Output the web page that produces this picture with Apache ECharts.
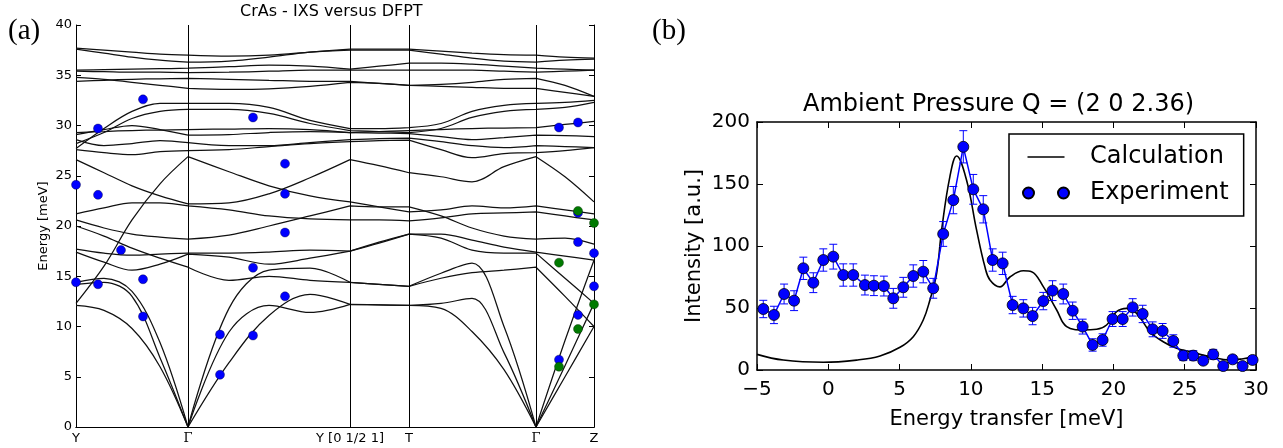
<!DOCTYPE html>
<html>
<head>
<meta charset="utf-8">
<script src="https://cdn.jsdelivr.net/npm/echarts@6/dist/echarts.min.js"></script>
<style>html,body{margin:0;padding:0;background:#fff;} #main{width:1283px;height:448px;}</style>
</head>
<body>
<div id="main"></div>
<script>
// ---- panel (a): phonon dispersion, path distance columns (px along the k-path)
var kCols = [0, 28, 56, 84, 112, 153, 193, 234, 274, 303, 333, 365, 396, 428, 460, 489, 518];
var kBreaks = [4, 8, 10, 14];
var kTicks = [0, 112, 274, 333, 460, 518];
var kLabels = ['Y', 'Γ', 'Y [0 1/2 1]', 'T', 'Γ', 'Z'];

var bandT1 = [37.7, 37.5, 37.3, 37.1, 37.0, 36.9, 37.0, 37.3, 37.6, 37.6, 37.6, 37.4, 37.2, 37.05, 37.0, 36.8, 36.7];
var bandT2 = [37.6, 37.2, 36.8, 36.5, 36.3, 36.4, 36.8, 37.3, 37.5, 37.5, 37.5, 37.1, 36.7, 36.4, 36.3, 36.5, 36.6];
var bandT3 = [35.5, 35.55, 35.6, 35.65, 35.7, 35.85, 36.0, 35.9, 35.6, 35.9, 36.2, 36.2, 36.1, 35.9, 35.7, 35.6, 35.5];
var bandT4 = [35.4, 35.35, 35.3, 35.3, 35.25, 35.3, 35.4, 35.5, 35.5, 35.5, 35.5, 35.5, 35.5, 35.4, 35.3, 35.4, 35.5];
var bandT5 = [34.4, 34.5, 34.6, 34.65, 34.7, 34.6, 34.5, 34.4, 34.4, 34.2, 34.0, 34.1, 34.3, 34.6, 34.7, 34.0, 32.9];
var bandT6 = [34.8, 34.6, 34.3, 34.0, 33.7, 33.6, 33.65, 33.9, 34.3, 34.2, 34.0, 33.9, 33.8, 33.7, 33.7, 33.3, 32.9];
var bandU1 = [27.7, 29.7, 31.4, 32.2, 32.2, 32.2, 31.8, 30.5, 29.7, 29.7, 29.8, 30.2, 31.4, 32.0, 32.2, 32.3, 32.5];
var bandU2 = [28.2, 29.3, 30.7, 31.4, 31.6, 31.6, 31.2, 30.2, 29.5, 29.4, 29.3, 29.7, 30.8, 31.4, 31.6, 31.8, 32.3];
var bandV1 = [29.3, 29.4, 29.5, 29.55, 29.6, 29.65, 29.7, 29.6, 29.3, 29.4, 29.5, 29.6, 29.7, 29.75, 29.8, 30.1, 30.4];
var bandV2 = [29.1, 29.6, 30.0, 29.6, 29.05, 29.1, 29.3, 29.4, 29.3, 29.25, 29.2, 28.9, 28.6, 28.8, 29.05, 29.0, 28.9];
var bandV3 = [28.6, 28.0, 28.2, 28.5, 28.3, 28.0, 28.0, 28.3, 28.6, 28.7, 28.75, 28.4, 28.0, 27.8, 28.0, 27.9, 27.8];
var bandV4 = [27.6, 27.3, 27.1, 27.4, 27.5, 27.6, 27.9, 28.2, 28.4, 28.5, 28.55, 27.6, 26.8, 27.2, 27.3, 27.5, 27.8];
var bandW1 = [12.3, 16.0, 20.6, 24.2, 26.9, 25.4, 24.0, 23.0, 22.4, 21.9, 21.4, 21.6, 22.0, 21.8, 22.0, 21.6, 21.2];
var bandW2 = [26.6, 25.3, 24.0, 23.0, 22.2, 22.3, 23.2, 24.8, 26.6, 26.0, 25.3, 24.9, 24.4, 25.9, 26.9, 24.9, 22.4];
var bandY1 = [21.2, 21.8, 22.3, 22.3, 22.0, 21.6, 21.0, 20.7, 20.6, 20.6, 20.5, 20.8, 21.2, 21.3, 21.4, 21.0, 20.6];
var bandY2 = [20.6, 19.8, 19.2, 18.9, 18.7, 19.1, 20.0, 21.0, 22.0, 21.9, 21.9, 21.0, 19.8, 19.0, 18.7, 18.8, 18.2];
var bandX1 = [20.0, 19.0, 17.8, 16.8, 15.9, 14.6, 15.0, 14.6, 14.4, 14.2, 14.0, 14.8, 15.35, 15.6, 15.9, 13.0, 10.0];
var bandX2 = [17.7, 17.3, 17.1, 17.2, 17.3, 17.3, 17.4, 17.6, 17.5, 18.3, 19.2, 18.8, 17.6, 17.3, 17.3, 14.8, 12.3];
var bandX3 = [17.4, 16.4, 15.6, 16.2, 17.2, 16.9, 16.2, 16.8, 17.5, 18.4, 19.2, 19.2, 18.6, 17.9, 17.4, 17.0, 16.6];
var bandA1 = [14.4, 14.8, 13.5, 8.4, 0, 11.8, 15.6, 15.8, 14.4, 14.2, 14.0, 15.3, 16.3, 10.0, 0, 8.6, 16.6];
var bandA2 = [14.2, 14.4, 13.0, 6.9, 0, 9.45, 12.1, 11.4, 12.2, 12.15, 12.1, 12.3, 12.8, 7.4, 0, 6.1, 12.3];
var bandA3 = [12.1, 11.6, 9.8, 6.0, 0, 6.4, 11.1, 13.2, 12.2, 12.15, 12.1, 11.8, 9.5, 5.7, 0, 5.0, 10.0];

var bands = [bandT1, bandT2, bandT3, bandT4, bandT5, bandT6, bandU1, bandU2, bandV1, bandV2, bandV3, bandV4,
  bandW1, bandW2, bandY1, bandY2, bandX1, bandX2, bandX3, bandA1, bandA2, bandA3];

// IXS points [path position, energy]
var ixsBlue = [[0, 24.1], [0, 14.4], [22, 29.7], [22, 23.1], [22, 14.2], [45, 17.6], [67, 32.6], [67, 14.7], [67, 11.0],
  [144, 9.2], [144, 5.2], [177, 30.8], [177, 15.85], [177, 9.1], [209, 26.2], [209, 23.2], [209, 19.35], [209, 13.0],
  [483, 29.8], [483, 6.7], [502, 30.3], [502, 21.3], [502, 18.4], [502, 11.15], [518, 17.3], [518, 14.0]];
var ixsGreen = [[502, 21.5], [518, 20.3], [483, 16.35], [518, 12.2], [502, 9.75], [483, 6.0]];

// ---- panel (b): Q = (2 0 2.36)
var expX = [-4.56, -3.81, -3.1, -2.4, -1.75, -1.05, -0.35, 0.35, 1.05, 1.75, 2.57, 3.2, 3.9, 4.56, 5.26, 5.96, 6.66, 7.36,
  8.06, 8.77, 9.47, 10.17, 10.87, 11.53, 12.23, 12.93, 13.68, 14.33, 15.08, 15.73, 16.48, 17.14, 17.84, 18.54, 19.24,
  19.94, 20.65, 21.35, 22.05, 22.75, 23.45, 24.2, 24.9, 25.6, 26.3, 27.0, 27.7, 28.36, 29.06, 29.76];
var expY = [49.2, 44.4, 61.3, 55.9, 82, 70.4, 88.7, 91.4, 76.6, 76.6, 68.5, 68, 67.7, 57.8, 66.7, 75.8, 79.3, 65.9,
  109.7, 137, 180, 145.7, 129.6, 88.7, 86, 52.4, 49.7, 43.5, 55.6, 64, 61.3, 47.8, 35, 20.2, 24.2,
  41.1, 41.1, 50.5, 45.2, 32.8, 31.5, 23.4, 11.6, 11.6, 7.5, 12.6, 3.2, 8.6, 3.2, 8.1];
var expErr = [7, 7, 8, 8, 9, 8, 9, 10, 9, 9, 8, 8, 8, 8, 8, 9, 9, 8, 10, 11, 13, 12, 11, 9, 9, 7, 7, 7, 7, 8, 8, 7, 6, 5, 5,
  6, 6, 7, 7, 6, 6, 5, 4, 4, 3, 4, 2, 3, 2, 3];
var calcX = [-5, -3.16, -0.35, 1.99, 3.63, 5.03, 5.96, 6.66, 7.13, 7.6, 7.95, 8.53, 9.0, 9.7, 10.4, 10.99, 11.34, 12.04,
  12.74, 13.68, 14.26, 15.08, 16.02, 16.72, 17.88, 18.82, 19.52, 20.22, 20.93, 21.63, 22.56, 23.49, 24.43, 25.36,
  26.77, 28.17, 29.1, 29.9];
var calcY = [12.6, 8, 6.2, 8, 11.3, 18.3, 26.9, 40.3, 56.5, 78, 113, 156, 172.6, 153, 113, 83, 72.6, 67,
  75, 80, 79.3, 67.2, 48.4, 35, 32.3, 32.8, 36.3, 47, 49.7, 45.7, 30.9, 22.8, 17.5, 14.8,
  10.8, 8, 9.1, 10.8];

var FONT = 'DejaVu Sans';

function branchData(vals) {
  var out = [];
  for (var i = 0; i < kCols.length; i++) {
    out.push([kCols[i], vals[i]]);
    if (kBreaks.indexOf(i) >= 0) {
      out.push([kCols[i], '-']);
      out.push([kCols[i], vals[i]]);
    }
  }
  return out;
}
function zip(a, b) { return a.map(function (v, i) { return [v, b[i]]; }); }

var chart = echarts.init(document.getElementById('main'));

var series = bands.map(function (b, i) {
  var s = {
    type: 'line', xAxisIndex: 0, yAxisIndex: 0, data: branchData(b),
    smooth: 0.35, symbol: 'none', silent: true, animation: false, z: 2,
    lineStyle: {color: '#111', width: 1.25}
  };
  if (i === 0) {
    s.markLine = {
      silent: true, symbol: ['none', 'none'], animation: false,
      label: {show: false},
      lineStyle: {color: '#000', type: 'solid', width: 1},
      data: [{xAxis: kTicks[1]}, {xAxis: kTicks[2]}, {xAxis: kTicks[3]}, {xAxis: kTicks[4]}]
    };
  }
  return s;
});
series.push({
  type: 'scatter', xAxisIndex: 0, yAxisIndex: 0, data: ixsBlue, symbolSize: 9, z: 5, silent: true,
  itemStyle: {color: '#0000ff', opacity: 1, borderColor: '#000033', borderWidth: 0.4}
});
series.push({
  type: 'scatter', xAxisIndex: 0, yAxisIndex: 0, data: ixsGreen, symbolSize: 9, z: 6, silent: true,
  itemStyle: {color: '#007a00', opacity: 1, borderColor: '#002200', borderWidth: 0.4}
});
series.push({
  name: 'Calculation', type: 'line', xAxisIndex: 2, yAxisIndex: 2, data: zip(calcX, calcY),
  smooth: 0.4, symbol: 'none', color: '#000', lineStyle: {color: '#000', width: 1.6}, z: 3
});
series.push({
  type: 'custom', xAxisIndex: 2, yAxisIndex: 2, z: 4, silent: true,
  data: expX.map(function (x, i) { return [x, expY[i], expErr[i]]; }),
  encode: {x: 0, y: 1},
  renderItem: function (params, api) {
    var x = api.value(0), y = api.value(1), e = api.value(2);
    var top = api.coord([x, y + e]), bot = api.coord([x, y - e]);
    var w = 4, st = {stroke: '#0000ff', lineWidth: 1};
    return {type: 'group', children: [
      {type: 'line', shape: {x1: top[0], y1: top[1], x2: bot[0], y2: bot[1]}, style: st},
      {type: 'line', shape: {x1: top[0] - w, y1: top[1], x2: top[0] + w, y2: top[1]}, style: st},
      {type: 'line', shape: {x1: bot[0] - w, y1: bot[1], x2: bot[0] + w, y2: bot[1]}, style: st}
    ]};
  }
});
series.push({
  name: 'Experiment', type: 'line', xAxisIndex: 2, yAxisIndex: 2, data: zip(expX, expY),
  symbol: 'circle', symbolSize: 11, z: 5, color: '#0000ff',
  itemStyle: {color: '#0000ff', borderColor: '#000', borderWidth: 0.8},
  lineStyle: {color: '#0000ff', width: 1.5}
});

var option = {
  animation: false,
  backgroundColor: '#fff',
  title: [
    {text: 'CrAs - IXS versus DFPT', left: 240, top: 4, padding: 0,
      textStyle: {fontSize: 16, fontWeight: 'normal', color: '#000', fontFamily: FONT}},
    {text: 'Ambient Pressure Q = (2 0 2.36)', left: 803, top: 93, padding: 0,
      textStyle: {fontSize: 24, fontWeight: 'normal', color: '#000', fontFamily: FONT}}
  ],
  graphic: [
    {type: 'text', left: 8, top: 17, style: {text: '(a)', fontSize: 29, fontFamily: 'Liberation Serif', fill: '#000'}},
    {type: 'text', left: 652, top: 17, style: {text: '(b)', fontSize: 29, fontFamily: 'Liberation Serif', fill: '#000'}}
  ],
  legend: {
    data: [
      {name: 'Calculation', icon: 'path://M0,0M46,11M4.5,4.75h37v1.5h-37z'},
      {name: 'Experiment', icon: 'path://M0,5.5a5.5,5.5 0 1,0 11,0a5.5,5.5 0 1,0 -11,0zM35,5.5a5.5,5.5 0 1,0 11,0a5.5,5.5 0 1,0 -11,0z'}
    ],
    orient: 'vertical', left: 1009, top: 134, selectedMode: false,
    padding: [11, 15, 11, 13], itemGap: 12, itemWidth: 46, itemHeight: 11,
    borderColor: '#000', borderWidth: 1.5, backgroundColor: '#fff',
    textStyle: {fontSize: 24, color: '#000', fontFamily: FONT, padding: [0, 0, 0, 16]}
  },
  grid: [
    {left: 76, right: 689, top: 25, bottom: 21},
    {left: 757, right: 27, top: 122, bottom: 78}
  ],
  xAxis: [
    {gridIndex: 0, type: 'value', min: 0, max: 518,
      axisLine: {lineStyle: {color: '#000', width: 1}}, axisTick: {show: false}, splitLine: {show: false},
      axisLabel: {customValues: kTicks, margin: 5, fontSize: 13, color: '#000', fontFamily: FONT,
        formatter: function (v) {
          var i = kTicks.indexOf(v);
          var t = i >= 0 ? kLabels[i] : '';
          return t === 'Γ' ? '{g|Γ}' : t;
        },
        rich: {g: {fontFamily: 'DejaVu Serif', fontSize: 13, color: '#000'}}}
    },
    {gridIndex: 0, type: 'value', min: 0, max: 518, position: 'top',
      axisLine: {lineStyle: {color: '#000', width: 1}}, axisTick: {show: false}, axisLabel: {show: false}, splitLine: {show: false}},
    {gridIndex: 1, type: 'value', min: -5, max: 30, interval: 5,
      axisLine: {onZero: false, lineStyle: {color: '#000', width: 1.5}},
      axisTick: {inside: true, length: 6, lineStyle: {color: '#000', width: 1}},
      splitLine: {show: false},
      axisLabel: {fontSize: 20, margin: 10, color: '#000', fontFamily: FONT,
        formatter: function (v) { return String(v).replace('-', '\u2212'); }},
      name: 'Energy transfer [meV]', nameLocation: 'middle', nameGap: 39,
      nameTextStyle: {fontSize: 21, color: '#000', fontFamily: FONT}},
    {gridIndex: 1, type: 'value', min: -5, max: 30, interval: 5, position: 'top',
      axisLine: {onZero: false, lineStyle: {color: '#000', width: 1.5}},
      axisTick: {inside: true, length: 6, lineStyle: {color: '#000', width: 1}},
      axisLabel: {show: false}, splitLine: {show: false}}
  ],
  yAxis: [
    {gridIndex: 0, type: 'value', min: 0, max: 40, interval: 5,
      axisLine: {show: true, onZero: false, lineStyle: {color: '#000', width: 1}},
      axisTick: {show: true, inside: true, length: 5, lineStyle: {color: '#000'}},
      splitLine: {show: false},
      axisLabel: {fontSize: 13, margin: 4, color: '#000', fontFamily: FONT},
      name: 'Energy [meV]', nameLocation: 'middle', nameGap: 26,
      nameTextStyle: {fontSize: 13, color: '#000', fontFamily: FONT}},
    {gridIndex: 0, type: 'value', min: 0, max: 40, interval: 5, position: 'right',
      axisLine: {show: true, onZero: false, lineStyle: {color: '#000', width: 1}},
      axisTick: {show: true, inside: true, length: 5, lineStyle: {color: '#000'}},
      axisLabel: {show: false}, splitLine: {show: false}},
    {gridIndex: 1, type: 'value', min: 0, max: 200, interval: 50,
      axisLine: {show: true, onZero: false, lineStyle: {color: '#000', width: 1.5}},
      axisTick: {show: true, inside: true, length: 6, lineStyle: {color: '#000', width: 1}},
      splitLine: {show: false},
      axisLabel: {fontSize: 20, margin: 7, color: '#000', fontFamily: FONT},
      name: 'Intensity [a.u.]', nameLocation: 'middle', nameGap: 52,
      nameTextStyle: {fontSize: 21, color: '#000', fontFamily: FONT}},
    {gridIndex: 1, type: 'value', min: 0, max: 200, interval: 50, position: 'right',
      axisLine: {show: true, onZero: false, lineStyle: {color: '#000', width: 1.5}},
      axisTick: {show: true, inside: true, length: 6, lineStyle: {color: '#000', width: 1}},
      axisLabel: {show: false}, splitLine: {show: false}}
  ],
  series: series
};
chart.setOption(option);
</script>
</body>
</html>
